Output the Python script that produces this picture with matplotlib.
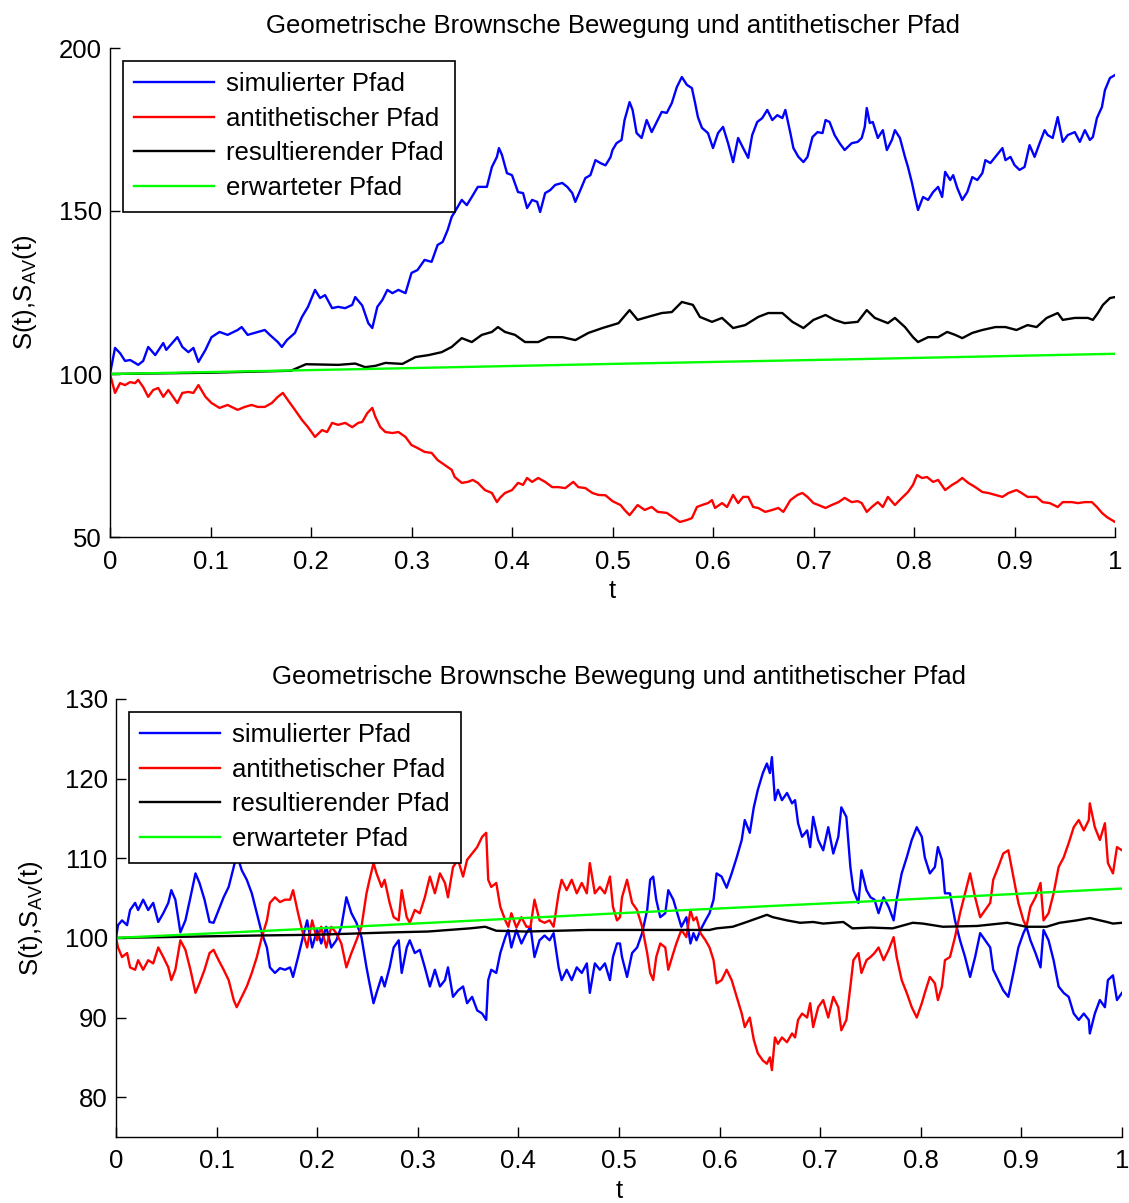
import matplotlib
matplotlib.use("Agg")
import matplotlib.pyplot as plt

plt.rcParams["font.family"] = ["Liberation Sans", "DejaVu Sans"]

TITLE = "Geometrische Brownsche Bewegung und antithetischer Pfad"
LABELS = ["simulierter Pfad", "antithetischer Pfad", "resultierender Pfad", "erwarteter Pfad"]
X_TICKS = [0, 0.1, 0.2, 0.3, 0.4, 0.5, 0.6, 0.7, 0.8, 0.9, 1]
X_TICK_LABELS = ["0", "0.1", "0.2", "0.3", "0.4", "0.5", "0.6", "0.7", "0.8", "0.9", "1"]
Y_TICKS_TOP = [50, 100, 150, 200]
Y_TICKS_BOTTOM = [80, 90, 100, 110, 120, 130]

# ---- upper panel -------------------------------------------------------
T_BLUE_TOP = [
    0, .005, .01, .015, .02, .025, .028, .033, .038, .045,
    .053, .056, .067, .072, .078, .083, .088, .095, .101, .109,
    .117, .127, .131, .137, .147, .154, .159, .167, .171, .176,
    .184, .191, .197, .204, .209, .214, .221, .227, .234, .241,
    .244, .251, .257, .261, .266, .271, .276, .281, .287, .294,
    .3, .306, .313, .32, .326, .331, .336, .34, .343, .35,
    .355, .36, .366, .375, .38, .385, .387, .39, .395, .4,
    .406, .411, .415, .42, .425, .428, .433, .438, .443, .45,
    .455, .46, .463, .468, .473, .478, .483, .488, .493, .498,
    .5, .504, .509, .512, .517, .52, .524, .529, .534, .539,
    .544, .549, .554, .559, .564, .569, .574, .579, .582, .585,
    .589, .595, .6, .605, .61, .615, .62, .625, .63, .635,
    .639, .644, .649, .654, .659, .664, .669, .672, .677, .68,
    .685, .69, .694, .699, .704, .709, .712, .716, .721, .726,
    .731, .738, .744, .748, .751, .753, .756, .759, .764, .769,
    .773, .778, .781, .786, .791, .794, .798, .801, .804, .809,
    .814, .819, .824, .828, .831, .836, .839, .843, .848, .853,
    .858, .863, .868, .871, .876, .881, .888, .891, .896, .9,
    .905, .91, .915, .92, .925, .93, .933, .938, .943, .948,
    .953, .96, .965, .97, .975, .978, .982, .987, .99, .995,
    1.0,
]
BLUE_TOP = [
    100, 108, 106.4, 104, 104.3, 103.4, 102.8, 104, 108.3, 105.8,
    109.5, 107.4, 111.3, 108.3, 106.7, 108, 103.7, 107.4, 111.3, 112.9,
    112, 113.5, 114.4, 112, 112.9, 113.5, 112, 109.8, 108.3, 110.4,
    112.6, 117.5, 120.6, 125.8, 123.3, 124.2, 120.2, 120.6, 120.2, 121.2,
    123.6, 121, 115.6, 114.1, 120.6, 122.7, 125.8, 124.8, 125.8, 124.8,
    131, 131.9, 135, 134.4, 139.6, 140.5, 144.2, 148.2, 149.7, 153.4,
    151.8, 154.3, 157.4, 157.4, 163.5, 166.6, 169.3, 167.2, 161.6, 161,
    155.8, 155.5, 150.9, 153.4, 152.8, 149.7, 155.5, 156.4, 158, 158.6,
    157.4, 155.5, 152.8, 156.4, 160.1, 161, 165.6, 164.7, 164, 166.5,
    168.7, 170.8, 171.8, 177.9, 183.4, 181, 173.9, 172.4, 177.9, 174.2,
    177.3, 180.4, 180.1, 183.1, 188, 191.1, 188.7, 187.7, 183.4, 178.8,
    175.5, 173.9, 169.3, 173.9, 175.8, 170.8, 165, 172.4, 169.3, 166.3,
    173.3, 177.3, 178.5, 181, 177.9, 179.4, 178.5, 181, 173.9, 169.3,
    166.6, 165, 166.6, 172.7, 174.2, 173.9, 177.9, 177.3, 173.3, 170.8,
    168.7, 170.8, 171.2, 172.4, 175.8, 181.6, 177, 177.3, 172.4, 174.8,
    168.7, 171.8, 174.8, 172.4, 166.6, 163.5, 158.6, 154.3, 150.3, 154.3,
    153.4, 155.8, 157.4, 154.3, 162, 159.5, 161, 157.1, 153.4, 155.8,
    160.4, 159.5, 161.6, 165.6, 164.7, 166.6, 169.3, 165.6, 166.6, 164.1,
    162.6, 163.5, 170.2, 166.6, 170.8, 174.8, 173.3, 172.4, 178.8, 171.2,
    173.3, 174.2, 171.2, 174.8, 171.8, 172.7, 178.5, 181.9, 187.1, 190.8,
    191.7,
]

T_RED_TOP = [
    0, .005, .01, .015, .02, .025, .028, .033, .038, .043,
    .048, .053, .058, .065, .067, .072, .078, .083, .088, .095,
    .101, .109, .117, .127, .134, .141, .147, .154, .161, .167,
    .172, .177, .184, .191, .197, .204, .211, .216, .221, .227,
    .234, .241, .247, .251, .256, .261, .264, .269, .274, .281,
    .287, .294, .3, .306, .313, .32, .326, .333, .34, .343,
    .35, .356, .361, .366, .373, .38, .385, .388, .393, .4,
    .406, .411, .415, .42, .426, .433, .44, .446, .453, .461,
    .466, .473, .48, .486, .493, .5, .508, .512, .517, .525,
    .532, .539, .545, .554, .56, .567, .574, .579, .584, .589,
    .595, .599, .602, .609, .614, .62, .625, .63, .635, .64,
    .645, .652, .659, .665, .67, .677, .684, .689, .694, .7,
    .705, .712, .718, .725, .731, .738, .744, .748, .753, .758,
    .764, .769, .774, .781, .788, .794, .799, .803, .808, .813,
    .819, .824, .831, .838, .843, .848, .854, .861, .868, .874,
    .881, .888, .894, .902, .907, .913, .922, .928, .935, .943,
    .948, .957, .963, .97, .977, .982, .987, .992, 1.0,
]
RED_TOP = [
    100, 94.2, 97.2, 96.6, 97.5, 97.2, 98.2, 96, 93, 95.1,
    95.7, 93, 95.1, 92, 91.1, 94.2, 94.5, 94.2, 96.6, 93,
    91.1, 89.6, 90.5, 89, 89.9, 90.5, 89.9, 89.9, 91.1, 93,
    94.2, 92, 89, 85.9, 83.7, 80.7, 82.8, 82.2, 85, 84.4,
    85, 83.7, 85, 85.3, 88, 89.6, 86.9, 83.7, 82.2, 81.9,
    82.2, 80.7, 78.2, 77.3, 76.1, 75.8, 73.6, 72.1, 70.6, 68.4,
    66.6, 66.9, 67.5, 66.6, 64.4, 63.5, 60.7, 62, 63.5, 64.4,
    66.6, 66, 68.1, 66.9, 68.1, 66.9, 65.3, 65.3, 65, 66.9,
    65.3, 65, 63.5, 62.9, 62.8, 61, 59.8, 58.3, 56.7, 59.8,
    58.3, 59.2, 57.7, 57.4, 56.1, 54.6, 55.2, 55.8, 59.2, 59.8,
    60.4, 61.3, 58.9, 60.4, 59.2, 62.9, 60.4, 62.3, 62.3, 59.2,
    58.9, 57.7, 58.3, 58.9, 57.7, 61.3, 62.9, 63.5, 62.3, 60.4,
    59.8, 58.9, 59.8, 60.7, 62, 60.7, 61, 60.4, 57.7, 59.2,
    60.7, 59.2, 62.3, 59.8, 62, 63.8, 66, 69, 68.1, 68.4,
    66.9, 67.5, 64.4, 66, 66.9, 68.1, 66.6, 65.3, 63.8, 63.5,
    62.9, 62.3, 63.5, 64.4, 63.5, 62.3, 62.3, 60.7, 60.4, 59.2,
    60.7, 60.7, 60.4, 60.7, 60.7, 59.2, 57.4, 56.1, 54.6,
]

T_BLACK_TOP = [
    0, .1, .18, .195, .227, .244, .254, .264, .274, .291,
    .304, .317, .33, .34, .35, .36, .37, .38, .386, .393,
    .403, .413, .426, .436, .45, .463, .476, .49, .506, .517,
    .525, .535, .549, .559, .569, .58, .587, .599, .609, .62,
    .632, .645, .655, .669, .679, .69, .7, .712, .721, .731,
    .744, .753, .761, .774, .781, .791, .799, .804, .814, .824,
    .833, .841, .848, .858, .868, .881, .891, .902, .913, .922,
    .932, .943, .948, .96, .973, .978, .983, .988, .995, 1.0,
]
BLACK_TOP = [
    100, 100.4, 101, 103, 102.8, 103.2, 102.1, 102.5, 103.4, 103.1,
    105.2, 105.8, 106.7, 108.3, 111, 109.8, 112, 112.9, 114.4, 112.9,
    112, 109.8, 109.8, 111.3, 111.3, 110.4, 112.6, 114.1, 115.6, 119.6,
    116.6, 117.5, 118.7, 119, 122.1, 121.2, 117.5, 116, 117.2, 114.1,
    115, 117.5, 118.7, 118.7, 116, 114.1, 116.6, 118.1, 116.6, 115.6,
    116, 119.6, 117.2, 115.6, 117.2, 114.4, 111.3, 109.8, 111.3, 111.3,
    112.9, 112, 111, 112.6, 113.5, 114.4, 114.4, 113.5, 115, 114.4,
    117.2, 118.7, 116.6, 117.2, 117.2, 116.6, 118.7, 121.2, 123.3, 123.6,
]

# ---- lower panel (blue and red read at the same times) -----------------
T_BOTTOM = [
    0, .002, .006, .011, .014, .019, .022, .027, .032, .037,
    .042, .047, .052, .055, .059, .064, .069, .074, .079, .083,
    .088, .093, .097, .102, .107, .112, .117, .12, .125, .13,
    .135, .14, .145, .15, .153, .158, .163, .168, .173, .176,
    .181, .185, .19, .195, .2, .204, .209, .214, .219, .224,
    .229, .234, .239, .244, .249, .252,
    .256, .259, .264, .267, .272, .276, .281, .284, .289, .292,
    .297, .302, .307, .312, .317, .322, .327, .33, .335, .34,
    .345, .349, .354, .359, .364, .368, .37, .373, .378, .382,
    .387, .39, .393, .398, .403, .408, .412, .416, .421, .426,
    .431, .435, .44, .443, .448, .453, .458, .463, .468, .471,
    .476, .481, .486, .491, .494, .498, .501,
    .503, .508, .513, .518, .523, .528, .531, .534, .537, .541,
    .546, .549, .554, .557, .562, .567, .571, .574, .577, .581,
    .586, .59, .594, .597, .602, .607, .612, .617, .622, .625,
    .63, .634, .638, .643, .647, .65, .652, .655, .658, .662,
    .667, .672, .675, .678, .682, .687, .69, .693, .698, .703,
    .708, .713, .718, .721, .726, .73, .733, .738, .741, .746,
    .75,
    .754, .758, .763, .768, .773, .776, .781, .786, .791, .796,
    .801, .804, .809, .814, .817, .821, .824, .829, .834, .839,
    .844, .849, .854, .859, .864, .869, .872, .877, .882, .887,
    .892, .897, .902, .905, .909, .914, .919, .922, .927, .932,
    .937, .942, .947, .952, .957, .962, .967, .968, .973, .978,
    .983, .986, .991, .995, 1.0,
]
BLUE_BOTTOM = [
    100, 101.6, 102.2, 101.6, 103.5, 104.4, 103.5, 104.8, 103.5, 104.4,
    102, 103.1, 104.4, 106, 104.8, 100.7, 102.2, 105.1, 108.1, 106.9,
    104.8, 102, 101.9, 103.5, 105.1, 106.4, 108.9, 110.5, 108.5, 107.3,
    105.6, 103.1, 100.6, 98.8, 96.3, 95.6, 96.2, 96, 96.3, 95.1,
    97.6, 99.7, 102.2, 98.8, 101, 99.3, 101.4, 98.8, 99.7, 101.4,
    105.1, 103.1, 101.9, 100.1, 96.3, 94.3,
    91.8, 93.1, 95.1, 93.9, 96.3, 98.8, 99.7, 95.6, 98.8, 99.7,
    98.1, 98.5, 96.3, 93.9, 96, 93.9, 94.7, 96.3, 92.6, 93.4,
    93.9, 91.8, 92.6, 90.9, 90.5, 89.7, 94.7, 96, 95.6, 98.1,
    100.1, 101, 98.8, 101, 99.3, 100.6, 101.4, 97.6, 99.7, 100.3,
    99.7, 100.6, 96.3, 94.7, 96, 94.7, 96.3, 95.6, 96.8, 93.1,
    96.8, 96, 96.8, 94.7, 97.6, 99.3, 99.3,
    97.6, 95.1, 98.1, 98.8, 100.6, 103.5, 107.3, 107.7, 104.8, 102.6,
    103.1, 106, 104.8, 103.5, 101.4, 102.6, 99.3, 100.6, 99.7, 101,
    102.2, 103.1, 104.8, 108.1, 107.7, 106.3, 108.1, 110.1, 112.3, 114.8,
    113.2, 116.4, 118.6, 120.7, 121.9, 120.7, 122.7, 117.3, 118.6, 117.3,
    118.2, 116.9, 117.3, 114.4, 112.7, 113.5, 111.4, 115.2, 112.3, 111,
    113.9, 110.6, 112.7, 116.4, 115.2, 108.9, 106, 104.4, 108.5, 106,
    105.1,
    104.8, 103.1, 105.1, 103.9, 102.2, 104.8, 108.1, 110.1, 112.3, 113.9,
    112.7, 110.1, 108.1, 108.9, 111.4, 109.8, 105.6, 105.6, 102.2, 99.7,
    97.6, 95.1, 97.6, 100.6, 99.7, 98.8, 96, 94.7, 93.4, 92.6,
    95.6, 98.8, 100.6, 101.4, 99.7, 98.1, 96.3, 101, 99.7, 97.2,
    93.9, 93.1, 92.6, 90.5, 89.7, 90.5, 89.7, 88, 90.5, 92.2,
    91.3, 94.7, 95.3, 92.2, 93.1,
]
RED_BOTTOM = [
    100, 98.8, 97.6, 98.1, 96.3, 96, 97.2, 96, 97.2, 96.8,
    98.8, 97.6, 96.3, 94.7, 96, 99.7, 98.5, 96, 93.1, 94.3,
    96, 98.1, 98.5, 97.2, 96, 94.7, 92.2, 91.3, 92.6, 93.9,
    95.6, 97.6, 100.1, 102.2, 104.4, 105.1, 104.5, 104.8, 104.8, 106,
    103.1, 101, 98.8, 102.2, 99.7, 101.4, 98.8, 101.4, 100.6, 99.3,
    96.3, 98.1, 99.7, 101.4, 105.6, 107.3,
    109.4, 108.1, 106.4, 107.3, 104.4, 102.6, 102.2, 106, 102.6, 101.9,
    103.5, 103.1, 105.1, 107.7, 105.6, 108.1, 106.9, 105.1, 108.9, 109.8,
    107.7, 109.8, 110.6, 111.4, 112.7, 113.2, 107.3, 106.4, 106.9, 103.9,
    102.2, 101.4, 103.1, 101.3, 102.6, 101.4, 101.4, 104.8, 102.2, 101.9,
    102.2, 101.4, 105.6, 107.3, 106, 107.3, 105.6, 106.9, 105.6, 109.4,
    105.6, 106.4, 105.6, 107.7, 103.9, 102.2, 102.6,
    105.1, 107.3, 104.4, 103.5, 101.4, 98.1, 95.6, 94.7, 97.6, 99.3,
    98.8, 96, 98.1, 99.3, 101, 100.1, 103.5, 102.2, 102.6, 100.6,
    99.7, 98.8, 97.2, 94.3, 94.7, 96, 94.7, 92.6, 90.5, 88.8,
    90, 87.2, 85.5, 84.6, 84.2, 85, 83.4, 87.5, 86.7, 87.5,
    86.9, 88, 87.5, 89.7, 90.5, 90, 91.8, 88.8, 91.3, 92.2,
    90, 92.6, 91.3, 88.4, 89.7, 93.9, 97.2, 98.1, 95.6, 97.2,
    97.6,
    98.1, 98.8, 97.2, 98.5, 100.1, 97.6, 94.7, 93.1, 91.3, 90,
    91.8, 93.1, 95.1, 94.3, 92.2, 93.9, 97.2, 97.6, 100.1, 103.1,
    105.6, 108.1, 105.1, 102.6, 103.5, 104.4, 107.3, 108.9, 110.6, 111,
    107.7, 104.4, 102.2, 101.4, 103.9, 105.1, 106.9, 102.2, 103.1, 105.6,
    108.9, 110.1, 111.9, 113.9, 114.8, 113.5, 114.8, 116.9, 113.9, 112.3,
    114.4, 109.4, 108.1, 111.4, 111,
]

T_BLACK_BOTTOM = [
    0, .14, .2, .25, .276, .31, .352, .367, .378, .408,
    .47, .534, .59, .597, .613, .627, .647, .653, .667, .68,
    .693, .703, .723, .732, .75, .772, .792, .802, .822, .856,
    .886, .905, .925, .938, .955, .968, .985, .991, 1.0,
]
BLACK_BOTTOM = [
    100, 100.3, 100.4, 100.6, 100.7, 100.8, 101.2, 101.4, 100.9, 100.8,
    101, 101, 101, 101.2, 101.4, 102, 102.9, 102.6, 102.2, 101.9,
    102, 101.8, 102, 101.2, 101.3, 101.2, 101.9, 101.8, 101.4, 101.5,
    101.9, 101.4, 101.4, 101.9, 102.2, 102.5, 102, 101.8, 101.9,
]

# expected path, same in both panels
T_GREEN = [0, 0.25, 0.5, 0.75, 1.0]
GREEN = [100, 101.5, 103.1, 104.6, 106.2]

FS = 18.5


def draw_panel(ax, t_blue, blue, t_red, red, t_black, black, ylim, yticks):

    ax.plot(t_blue, blue, color=(0, 0, 1), lw=1.7, label=LABELS[0])
    ax.plot(t_red, red, color=(1, 0, 0), lw=1.7, label=LABELS[1])
    ax.plot(t_black, black, color="black", lw=1.7, label=LABELS[2])
    ax.plot(T_GREEN, GREEN, color=(0, 1, 0), lw=1.7, label=LABELS[3])

    ax.set_xlim(0, 1)
    ax.set_ylim(*ylim)
    ax.set_xticks(X_TICKS)
    ax.set_xticklabels(X_TICK_LABELS)
    ax.set_yticks(yticks)

    for side in ("top", "right"):
        ax.spines[side].set_visible(False)
    for side in ("left", "bottom"):
        ax.spines[side].set_linewidth(1.0)

    ax.tick_params(direction="in", length=7, width=1.0, labelsize=FS)
    ax.tick_params(axis="x", pad=9)
    ax.tick_params(axis="y", pad=6)

    ax.set_title(TITLE, fontsize=FS, pad=11)
    ax.set_xlabel("t", fontsize=FS, labelpad=4)
    ax.set_ylabel(r"S(t),S$_\mathregular{AV}$(t)", fontsize=FS, labelpad=14)

    leg = ax.legend(loc="upper left", fontsize=FS, frameon=True, fancybox=False,
                    framealpha=1, edgecolor="black", borderaxespad=0.5,
                    handlelength=3.1, handletextpad=0.45, labelspacing=0.41,
                    borderpad=0.45)
    leg.get_frame().set_linewidth(1.2)


fig = plt.figure(figsize=(11.29, 12.03), dpi=100)

ax_top = fig.add_axes([110 / 1129, 1 - 537 / 1203, 1005 / 1129, 489 / 1203])
draw_panel(ax_top, T_BLUE_TOP, BLUE_TOP, T_RED_TOP, RED_TOP,
           T_BLACK_TOP, BLACK_TOP, (50, 200), Y_TICKS_TOP)

ax_bot = fig.add_axes([116 / 1129, 1 - 1137 / 1203, 1006 / 1129, 438 / 1203])
draw_panel(ax_bot, T_BOTTOM, BLUE_BOTTOM, T_BOTTOM, RED_BOTTOM,
           T_BLACK_BOTTOM, BLACK_BOTTOM, (75, 130), Y_TICKS_BOTTOM)

fig.savefig("out.png", dpi=100)
